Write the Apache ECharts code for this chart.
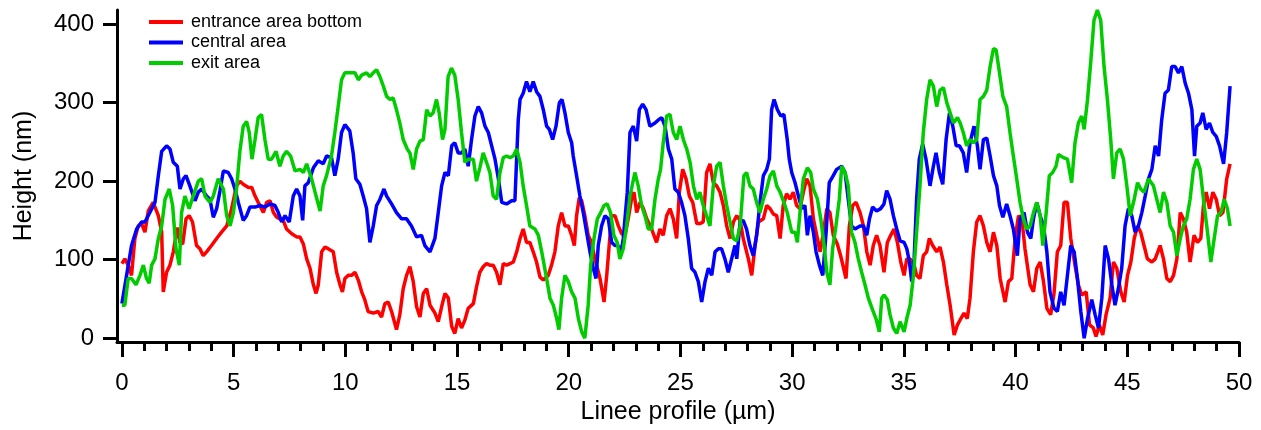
<!DOCTYPE html>
<html>
<head>
<meta charset="utf-8">
<script src="https://cdn.jsdelivr.net/npm/echarts@6/dist/echarts.min.js"></script>
<style>
  html, body { margin: 0; padding: 0; background: #fff; }
  #chart { width: 1261px; height: 430px; }
</style>
</head>
<body>
<div id="chart"></div>
<script>
// profile values: [position (µm), height (nm)]
var seriesNames = ['entrance area bottom', 'central area', 'exit area'];
var seriesColors = ['#ff0000', '#0000ff', '#00cc00'];

var entranceData = [
  [0,95],[0.13,101],[0.28,93],[0.43,80],[0.58,127],[0.73,143],[0.88,146],[1.03,135],[1.18,162],[1.4,173],[1.63,156],[1.78,135],[1.85,59],[2,84],[2.15,93],[2.3,110],[2.48,141],[2.6,122],[2.72,120],[2.87,152],[3.01,156],[3.16,148],[3.34,118],[3.49,114],[3.64,105],[3.79,110],[4.01,118],[4.24,127],[4.46,135],[4.69,143],[4.91,165],[5.13,194],[5.28,200],[5.43,196],[5.66,192],[5.81,192],[5.96,181],[6.1,173],[6.33,160],[6.48,173],[6.63,175],[6.78,160],[6.93,154],[7.07,152],[7.22,150],[7.37,139],[7.6,133],[7.82,129],[7.97,129],[8.12,120],[8.27,101],[8.42,89],[8.57,68],[8.69,57],[8.79,68],[8.94,110],[9.09,116],[9.23,114],[9.46,110],[9.61,84],[9.76,68],[9.87,59],[9.98,76],
  [10.13,80],[10.28,80],[10.43,84],[10.58,74],[10.73,59],[10.87,49],[11.02,34],[11.25,32],[11.47,34],[11.62,27],[11.77,44],[11.92,46],[12.07,34],[12.29,11],[12.44,30],[12.59,63],[12.74,80],[12.89,91],[13.04,72],[13.19,40],[13.34,27],[13.49,57],[13.64,63],[13.79,42],[14.01,32],[14.16,21],[14.31,40],[14.46,57],[14.61,51],[14.76,15],[14.9,6],[15.05,25],[15.2,13],[15.35,23],[15.5,38],[15.73,44],[15.87,65],[16.02,84],[16.17,91],[16.32,95],[16.47,93],[16.62,93],[16.77,84],[16.92,68],[17.07,95],[17.22,93],[17.37,95],[17.52,97],[17.67,110],[17.82,127],[17.96,139],[18.11,122],[18.26,122],[18.41,110],[18.56,97],[18.71,78],[18.86,74],[19.08,80],[19.23,93],[19.38,110],[19.53,143],[19.68,160],[19.83,143],[19.98,143],
  [20.13,131],[20.25,118],[20.35,156],[20.47,179],[20.58,175],[20.72,156],[20.87,131],[21.02,122],[21.17,101],[21.4,76],[21.58,46],[21.7,80],[21.81,118],[21.92,156],[22.07,156],[22.22,143],[22.37,133],[22.52,131],[22.66,152],[22.81,177],[22.92,186],[23.04,160],[23.19,173],[23.34,165],[23.49,152],[23.71,139],[23.93,122],[24.08,139],[24.23,131],[24.38,156],[24.53,165],[24.68,152],[24.83,127],[24.95,186],[25.1,215],[25.25,203],[25.4,181],[25.55,173],[25.73,146],[25.87,146],[26.02,148],[26.17,211],[26.32,222],[26.47,198],[26.62,194],[26.77,186],[26.92,169],[27.07,143],[27.22,127],[27.37,148],[27.52,156],[27.67,150],[27.81,127],[28.04,101],[28.19,80],[28.34,118],[28.49,148],[28.71,152],[28.86,169],[29.01,165],[29.16,158],[29.31,156],[29.46,127],[29.6,169],[29.75,184],[29.9,177],
  [30.05,186],[30.2,169],[30.35,165],[30.5,186],[30.65,203],[30.8,194],[30.95,152],[31.1,131],[31.25,110],[31.4,135],[31.55,165],[31.69,160],[31.84,131],[32.02,120],[32.17,105],[32.41,76],[32.56,143],[32.71,169],[32.86,173],[33.04,160],[33.19,143],[33.34,110],[33.49,93],[33.63,118],[33.78,131],[33.93,118],[34.11,84],[34.26,122],[34.41,131],[34.56,139],[34.71,122],[34.86,97],[35.01,80],[35.13,101],[35.28,101],[35.46,93],[35.57,80],[35.72,76],[35.87,105],[36.02,110],[36.14,127],[36.29,118],[36.47,110],[36.62,116],[36.77,97],[36.92,68],[37.07,42],[37.25,4],[37.4,17],[37.55,25],[37.69,32],[37.84,25],[37.96,51],[38.11,110],[38.26,148],[38.41,156],[38.56,143],[38.71,122],[38.86,110],[39.01,135],[39.16,118],[39.31,76],[39.53,46],[39.68,72],[39.83,76],[39.98,127],
  [40.13,156],[40.28,152],[40.42,114],[40.65,68],[40.8,59],[40.95,89],[41.1,97],[41.25,72],[41.4,38],[41.57,30],[41.72,57],[41.87,110],[42.02,118],[42.17,173],[42.32,173],[42.47,127],[42.66,93],[42.81,68],[42.96,55],[43.16,59],[43.31,17],[43.48,13],[43.6,2],[43.75,17],[43.9,4],[44.05,30],[44.23,51],[44.38,97],[44.53,89],[44.71,59],[44.86,46],[45.01,80],[45.16,97],[45.31,127],[45.46,143],[45.6,135],[45.75,118],[45.9,101],[46.1,97],[46.25,101],[46.47,118],[46.62,101],[46.77,76],[46.92,72],[47.07,80],[47.22,101],[47.37,160],[47.51,152],[47.66,135],[47.81,97],[47.99,131],[48.14,122],[48.29,127],[48.41,169],[48.53,186],[48.68,165],[48.83,186],[48.98,177],[49.13,156],[49.28,160],[49.45,203],[49.6,222]
];

var centralData = [
  [0,44],[0.21,80],[0.43,118],[0.66,139],[0.88,148],[1.03,148],[1.25,160],[1.48,173],[1.63,207],[1.78,238],[2,245],[2.15,241],[2.3,224],[2.48,219],[2.6,190],[2.75,203],[2.87,207],[3.04,194],[3.27,175],[3.42,186],[3.57,190],[3.79,181],[3.94,177],[4.09,154],[4.24,165],[4.39,188],[4.54,213],[4.76,211],[4.91,203],[5.06,190],[5.21,173],[5.43,150],[5.58,156],[5.73,167],[5.96,167],[6.18,169],[6.4,167],[6.63,171],[6.85,169],[7,160],[7.15,148],[7.3,156],[7.49,148],[7.67,181],[7.82,190],[7.97,181],[8.09,150],[8.19,194],[8.34,198],[8.57,217],[8.79,226],[9.01,222],[9.16,232],[9.38,230],[9.53,207],[9.68,228],[9.83,262],[9.98,272],
  [10.2,264],[10.35,236],[10.47,203],[10.65,196],[10.8,181],[10.95,165],[11.1,122],[11.25,143],[11.4,169],[11.55,177],[11.73,190],[11.85,181],[12.07,171],[12.29,160],[12.52,152],[12.74,152],[12.96,143],[13.19,129],[13.41,131],[13.56,118],[13.79,110],[14.01,127],[14.16,160],[14.31,194],[14.46,211],[14.61,207],[14.76,245],[14.9,249],[15.05,236],[15.2,236],[15.35,241],[15.5,219],[15.65,253],[15.8,283],[15.95,295],[16.1,287],[16.25,270],[16.4,262],[16.55,245],[16.7,228],[16.85,203],[17,173],[17.22,171],[17.44,175],[17.59,175],[17.74,278],[17.82,304],[17.96,312],[18.11,327],[18.26,314],[18.41,327],[18.56,314],[18.71,308],[18.86,291],[19.01,270],[19.13,266],[19.28,253],[19.43,270],[19.58,300],[19.7,304],[19.83,287],[19.98,262],
  [20.13,249],[20.2,232],[20.35,207],[20.5,181],[20.65,160],[20.8,135],[20.95,110],[21.1,89],[21.22,76],[21.32,118],[21.47,143],[21.62,156],[21.77,152],[21.92,122],[22.07,118],[22.22,118],[22.32,105],[22.44,127],[22.62,186],[22.74,262],[22.89,270],[23.04,251],[23.16,291],[23.31,298],[23.46,291],[23.63,270],[23.86,274],[24.01,278],[24.16,281],[24.31,270],[24.46,241],[24.61,228],[24.75,190],[24.9,186],[25.05,173],[25.2,156],[25.35,127],[25.5,89],[25.65,84],[25.8,72],[25.95,46],[26.1,72],[26.25,89],[26.4,80],[26.55,110],[26.7,114],[26.84,114],[26.99,101],[27.14,84],[27.29,101],[27.44,118],[27.52,101],[27.67,148],[27.81,150],[27.96,139],[28.11,118],[28.26,105],[28.41,131],[28.56,173],[28.71,207],[28.86,215],[28.98,228],[29.08,291],[29.19,304],[29.34,291],[29.49,283],[29.63,285],[29.78,253],[29.87,228],[29.98,211],
  [30.13,198],[30.28,181],[30.43,165],[30.57,169],[30.68,131],[30.8,156],[30.95,135],[31.07,110],[31.22,93],[31.37,80],[31.52,135],[31.66,198],[31.84,207],[31.99,215],[32.22,219],[32.37,211],[32.51,177],[32.66,143],[32.81,139],[33.04,143],[33.19,143],[33.34,131],[33.46,152],[33.6,167],[33.78,162],[33.96,165],[34.11,171],[34.23,188],[34.38,177],[34.53,156],[34.68,139],[34.83,124],[35.01,122],[35.13,114],[35.25,97],[35.35,72],[35.46,101],[35.57,177],[35.69,228],[35.84,247],[35.99,228],[36.17,194],[36.32,219],[36.44,236],[36.59,211],[36.74,196],[36.89,253],[37.04,287],[37.19,270],[37.34,245],[37.49,245],[37.66,236],[37.81,211],[37.96,249],[38.14,270],[38.29,245],[38.41,215],[38.56,253],[38.71,255],[38.86,232],[39.01,207],[39.16,194],[39.28,169],[39.43,154],[39.6,171],[39.75,156],[39.9,139],
  [40.08,105],[40.2,152],[40.38,160],[40.53,135],[40.68,127],[40.8,152],[40.95,173],[41.1,156],[41.25,143],[41.4,110],[41.54,59],[41.72,38],[41.87,34],[42.02,59],[42.17,42],[42.32,80],[42.47,118],[42.62,110],[42.77,76],[42.92,34],[43.07,0],[43.22,25],[43.41,49],[43.56,30],[43.71,13],[43.86,51],[44.01,118],[44.16,101],[44.31,68],[44.45,42],[44.6,63],[44.75,89],[44.9,143],[45.05,165],[45.2,156],[45.35,135],[45.5,143],[45.65,160],[45.8,181],[45.95,203],[46.1,215],[46.25,245],[46.4,232],[46.54,278],[46.69,312],[46.84,316],[46.99,346],[47.14,346],[47.29,338],[47.44,346],[47.59,325],[47.74,312],[47.89,291],[48.01,232],[48.11,270],[48.26,274],[48.38,287],[48.53,266],[48.68,274],[48.83,262],[48.98,257],[49.13,245],[49.31,222],[49.45,262],[49.6,321]
];

var exitData = [
  [0,42],[0.13,42],[0.28,76],[0.43,76],[0.63,68],[0.81,80],[0.96,93],[1.1,76],[1.22,70],[1.33,93],[1.48,101],[1.63,127],[1.78,143],[1.93,177],[2.12,190],[2.27,169],[2.42,114],[2.57,93],[2.67,160],[2.82,181],[3.01,165],[3.19,181],[3.42,200],[3.57,203],[3.72,181],[3.94,173],[4.09,181],[4.31,203],[4.54,190],[4.69,156],[4.84,143],[4.99,160],[5.13,190],[5.28,238],[5.43,270],[5.58,276],[5.7,262],[5.82,228],[5.96,253],[6.1,281],[6.25,285],[6.4,253],[6.55,228],[6.7,228],[6.9,238],[7.07,219],[7.22,232],[7.37,238],[7.55,232],[7.75,213],[7.97,215],[8.12,211],[8.27,222],[8.49,203],[8.69,181],[8.87,162],[9.01,194],[9.16,207],[9.38,232],[9.53,262],[9.68,295],[9.83,329],[9.98,338],
  [10.2,338],[10.43,338],[10.58,329],[10.73,335],[10.95,338],[11.1,333],[11.25,338],[11.4,342],[11.55,333],[11.7,321],[11.85,308],[12,304],[12.14,306],[12.29,291],[12.44,274],[12.59,253],[12.77,241],[12.89,236],[13.04,215],[13.19,241],[13.34,251],[13.49,253],[13.64,291],[13.79,283],[13.93,287],[14.08,304],[14.2,287],[14.35,253],[14.46,266],[14.6,333],[14.75,344],[14.9,335],[15.05,304],[15.2,262],[15.35,224],[15.5,228],[15.73,228],[15.87,200],[16.02,217],[16.17,236],[16.32,224],[16.47,211],[16.62,181],[16.77,177],[16.92,211],[17.07,230],[17.22,232],[17.37,230],[17.52,232],[17.67,241],[17.82,224],[17.96,194],[18.11,169],[18.26,143],[18.49,139],[18.64,131],[18.79,110],[19.01,76],[19.16,51],[19.31,42],[19.46,25],[19.56,11],[19.68,51],[19.83,80],[19.98,72],
  [20.13,59],[20.28,51],[20.43,25],[20.58,8],[20.72,0],[20.87,42],[20.98,93],[21.13,127],[21.28,152],[21.43,160],[21.58,169],[21.72,171],[21.87,160],[22.02,131],[22.17,122],[22.29,101],[22.44,114],[22.59,143],[22.74,181],[22.96,211],[23.11,194],[23.26,169],[23.41,156],[23.56,139],[23.71,139],[23.86,177],[24.01,203],[24.11,215],[24.23,249],[24.38,283],[24.53,285],[24.68,262],[24.83,253],[24.98,270],[25.13,253],[25.28,241],[25.43,224],[25.58,194],[25.73,177],[25.87,186],[26.02,169],[26.17,156],[26.32,143],[26.47,194],[26.62,219],[26.77,224],[26.92,194],[27.07,169],[27.22,148],[27.37,127],[27.52,124],[27.67,143],[27.84,207],[27.96,211],[28.11,194],[28.26,190],[28.41,173],[28.56,160],[28.71,177],[28.86,190],[29.01,207],[29.16,213],[29.31,194],[29.46,186],[29.63,173],[29.78,160],[29.98,135],
  [30.13,135],[30.23,122],[30.35,160],[30.5,203],[30.68,217],[30.83,211],[30.95,190],[31.13,177],[31.28,152],[31.43,118],[31.55,84],[31.69,68],[31.81,114],[31.96,143],[32.11,177],[32.22,219],[32.37,211],[32.51,194],[32.66,135],[32.81,122],[32.96,101],[33.11,84],[33.26,68],[33.41,51],[33.6,36],[33.75,25],[33.9,8],[34.01,51],[34.11,55],[34.26,49],[34.38,30],[34.53,13],[34.68,6],[34.83,21],[35.01,8],[35.13,25],[35.28,42],[35.43,80],[35.57,135],[35.72,194],[35.87,262],[36.02,304],[36.17,329],[36.32,321],[36.47,295],[36.62,316],[36.77,319],[36.92,300],[37.07,287],[37.22,274],[37.4,281],[37.52,274],[37.66,262],[37.81,245],[37.96,253],[38.11,249],[38.26,253],[38.41,304],[38.56,308],[38.71,316],[38.86,346],[39.01,369],[39.13,367],[39.28,338],[39.43,308],[39.6,295],[39.75,262],[39.9,232],
  [40.05,203],[40.2,173],[40.35,152],[40.5,139],[40.65,143],[40.8,160],[40.95,173],[41.1,156],[41.22,118],[41.37,160],[41.51,207],[41.66,211],[41.81,219],[41.92,234],[42.14,230],[42.32,228],[42.51,198],[42.66,249],[42.81,274],[42.96,283],[43.07,266],[43.22,304],[43.37,354],[43.51,405],[43.66,418],[43.81,405],[43.96,346],[44.11,304],[44.26,253],[44.38,203],[44.53,236],[44.68,241],[44.83,228],[44.98,194],[45.13,156],[45.31,177],[45.46,198],[45.6,190],[45.75,186],[45.95,203],[46.17,194],[46.32,177],[46.47,160],[46.62,186],[46.77,173],[46.92,143],[47.07,135],[47.22,105],[47.37,127],[47.51,143],[47.66,152],[47.81,177],[47.96,215],[48.11,228],[48.26,215],[48.41,177],[48.59,135],[48.74,97],[48.89,127],[49.04,156],[49.19,160],[49.34,177],[49.48,165],[49.6,143]
];

var xMajorTicks = [0, 5, 10, 15, 20, 25, 30, 35, 40, 45, 50];
var xMinorTicks = [1, 2, 3, 4, 6, 7, 8, 9, 11, 12, 13, 14, 16, 17, 18, 19, 21, 22, 23, 24, 26, 27, 28, 29, 31, 32, 33, 34, 36, 37, 38, 39, 41, 42, 43, 44, 46, 47, 48, 49];
var yTicks = [0, 100, 200, 300, 400];

var fontFamily = '"Liberation Sans", Arial, sans-serif';
var axisLineStyle = { color: '#000', width: 3 };

var option = {
  animation: false,
  backgroundColor: '#fff',
  textStyle: { fontFamily: fontFamily },
  grid: { left: 117, right: 22, top: 10, bottom: 86, containLabel: false },
  legend: {
    orient: 'vertical',
    left: 149,
    top: 13,
    padding: 0,
    icon: 'rect',
    itemWidth: 34,
    itemHeight: 4,
    itemGap: 2.5,
    data: seriesNames,
    textStyle: { fontSize: 18, color: '#000', fontFamily: fontFamily, padding: [0, 0, 0, 3] }
  },
  xAxis: [{
    type: 'value',
    min: -0.22,
    max: 50,
    position: 'bottom',
    name: 'Linee profile (µm)',
    nameLocation: 'middle',
    nameGap: 53,
    nameTextStyle: { fontSize: 25, color: '#000', fontFamily: fontFamily },
    axisLine: { show: true, onZero: false, lineStyle: axisLineStyle },
    axisTick: { show: true, inside: false, length: 15, customValues: xMajorTicks, lineStyle: axisLineStyle },
    axisLabel: { show: true, margin: 29, fontSize: 24, color: '#000', fontFamily: fontFamily, customValues: xMajorTicks },
    splitLine: { show: false }
  }, {
    type: 'value',
    min: -0.22,
    max: 50,
    position: 'bottom',
    axisLine: { show: false, onZero: false },
    axisTick: { show: true, inside: false, length: 9, customValues: xMinorTicks, lineStyle: axisLineStyle },
    axisLabel: { show: false },
    splitLine: { show: false }
  }],
  yAxis: {
    type: 'value',
    min: -5,
    max: 418,
    name: 'Height (nm)',
    nameLocation: 'middle',
    nameGap: 80,
    nameTextStyle: { fontSize: 25, color: '#000', fontFamily: fontFamily },
    axisLine: { show: true, onZero: false, lineStyle: axisLineStyle },
    axisTick: { show: true, inside: false, length: 14, customValues: yTicks, lineStyle: axisLineStyle },
    axisLabel: { show: true, margin: 23, fontSize: 24, color: '#000', fontFamily: fontFamily, customValues: yTicks },
    splitLine: { show: false }
  },
  series: [
    { name: seriesNames[0], type: 'line', data: entranceData, symbol: 'none', lineStyle: { width: 3.5, color: seriesColors[0] }, itemStyle: { color: seriesColors[0] } },
    { name: seriesNames[1], type: 'line', data: centralData, symbol: 'none', lineStyle: { width: 3.5, color: seriesColors[1] }, itemStyle: { color: seriesColors[1] } },
    { name: seriesNames[2], type: 'line', data: exitData, symbol: 'none', lineStyle: { width: 3.5, color: seriesColors[2] }, itemStyle: { color: seriesColors[2] } }
  ]
};

var myChart = echarts.init(document.getElementById('chart'));
myChart.setOption(option);
</script>
</body>
</html>
